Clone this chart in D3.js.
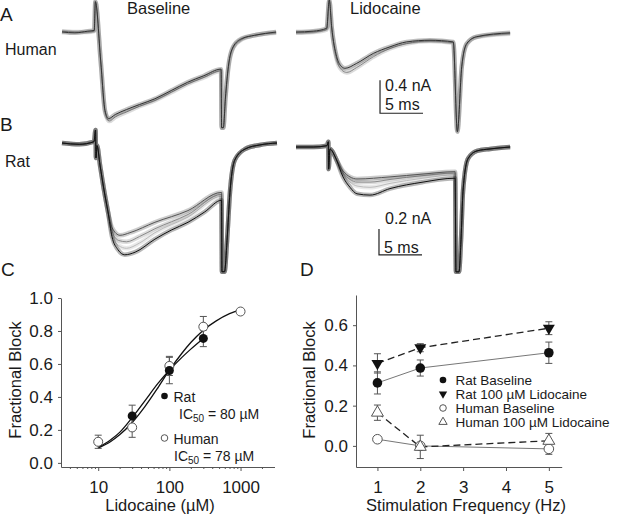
<!DOCTYPE html>
<meta charset="utf-8">
<script src="https://d3js.org/d3.v7.min.js"></script>
<style>
  body { margin: 0; background: #fff; }
  text { font-family: "Liberation Sans", Arial, sans-serif; fill: #1a1a1a; }
</style>
<div id="fig"></div>
<script>

// ---- traces, [time ms, current nA] ----
const humanBase1 = [[0,0],[1.5,-0.01],[3,0.01],[3.75,0.02],[3.88,0.37],[4.5,-0.35],[5.0,-0.95],[5.4,-1.05],[6.2,-1.0],[7.5,-0.94],[9.0,-0.88],[10.8,-0.81],[12.7,-0.71],[14.6,-0.61],[16.5,-0.53],[18.5,-0.45],[18.56,-1.16],[18.76,-1.16],[19.0,-0.8],[19.34,-0.42],[19.9,-0.18],[20.9,-0.08],[22.4,-0.04],[24.9,0]]
const humanBase2 = [[0,0.01],[1.5,0],[3,0],[3.75,0.01],[3.88,0.36],[4.5,-0.36],[5.0,-0.97],[5.5,-1.08],[6.2,-1.03],[7.5,-0.97],[9.0,-0.9],[10.8,-0.83],[12.7,-0.73],[14.6,-0.63],[16.5,-0.55],[18.5,-0.47],[18.56,-1.16],[18.76,-1.16],[19.0,-0.82],[19.34,-0.44],[19.9,-0.19],[20.9,-0.09],[22.4,-0.04],[24.9,-0.01]]
const humanLido1 = [[0,0],[2,0.01],[3.57,0.045],[3.87,0.39],[4.15,0.06],[4.73,-0.3],[5.31,-0.42],[5.7,-0.44],[7.06,-0.38],[8.99,-0.26],[10.93,-0.18],[12.87,-0.12],[15.58,-0.1],[18.29,-0.12],[18.76,-1.21],[19.27,-0.42],[19.85,-0.14],[21.01,-0.057],[24.9,-0.01]]
const humanLido2 = [[0,-0.01],[2,0],[3.57,0.03],[3.87,0.38],[4.15,0.05],[4.73,-0.33],[5.31,-0.46],[5.9,-0.49],[7.06,-0.43],[8.99,-0.3],[10.93,-0.2],[12.87,-0.14],[15.58,-0.11],[18.29,-0.13],[18.76,-1.2],[19.27,-0.43],[19.85,-0.15],[21.01,-0.06],[24.9,-0.02]]

const ratBaseHead = [[0,0],[2,-0.01],[3.72,0.01],[3.9,0.1],[3.95,-0.115],[4.07,-0.02],[4.42,-0.17],[4.88,-0.36],[5.35,-0.53]]
const ratBaseBlack = [[5.81,-0.72],[6.5,-0.82],[7.3,-0.86],[8.5,-0.84],[10.8,-0.74],[12.7,-0.67],[14.65,-0.61],[16.6,-0.53],[18.55,-0.44]]
const ratBaseLight = [[5.81,-0.7],[6.6,-0.79],[7.5,-0.81],[9,-0.77],[10.8,-0.69],[14.65,-0.57],[18.55,-0.41]]
const ratBaseMid = [[5.81,-0.68],[6.6,-0.75],[7.5,-0.76],[9,-0.72],[10.8,-0.66],[14.65,-0.55],[18.55,-0.395]]
const ratBaseDark = [[5.81,-0.65],[6.74,-0.71],[7.9,-0.69],[10.8,-0.61],[14.65,-0.52],[18.55,-0.38]]
const ratBaseTail = [[18.6,-0.99],[18.9,-0.99],[19.19,-0.75],[19.53,-0.38],[20.1,-0.13],[21.3,-0.046],[23,-0.015],[25,0]]

const ratLidoHead = [[0,0],[2,0],[3.6,0.01],[3.76,0.04],[3.79,-0.17],[3.95,-0.015],[4.19,-0.03],[4.65,-0.09]]
const ratLidoBlack = [[5.47,-0.23],[6.28,-0.31],[7.09,-0.36],[8.6,-0.37],[10.93,-0.32],[14.77,-0.27],[18.5,-0.24]]
const ratLidoLight = [[5.47,-0.21],[6.28,-0.27],[7.09,-0.3],[8.6,-0.31],[10.93,-0.28],[14.77,-0.24],[18.5,-0.215]]
const ratLidoMid = [[5.47,-0.2],[6.28,-0.25],[7.09,-0.27],[8.6,-0.27],[10.93,-0.25],[14.77,-0.22],[18.5,-0.2]]
const ratLidoDark = [[5.47,-0.185],[6.28,-0.23],[7.09,-0.246],[10.93,-0.23],[14.77,-0.208],[18.5,-0.19]]
const ratLidoTail = [[18.6,-0.96],[18.95,-0.96],[19.19,-0.71],[19.42,-0.34],[20,-0.09],[21.05,-0.03],[22.56,-0.015],[24.9,0]]

const scaleBarMs = 5, humanBarNa = 0.4, ratBarNa = 0.2

// ---- panel C: dose response ----
const ratConc = [30, 100, 300]
const ratBlock = [0.285, 0.56, 0.755]
const ratSem = [0.065, 0.08, 0.05]
const humanConc = [10, 30, 100, 300, 1000]
const humanBlock = [0.128, 0.215, 0.588, 0.826, 0.918]
const humanSem = [0.04, 0.06, 0.058, 0.062, 0.01]
const ratFit = [[10,0.093],[15,0.14],[20,0.185],[30,0.275],[45,0.375],[70,0.485],[100,0.562],[150,0.64],[200,0.69],[300,0.755]]
const humanFit = [[10,0.09],[15,0.13],[20,0.17],[30,0.245],[45,0.34],[70,0.46],[100,0.562],[150,0.665],[200,0.73],[300,0.805],[450,0.86],[700,0.905],[1000,0.93]]
const cLegend = ["Rat", "Human"]
const cIC50 = [80, 78]
const cXTicks = [10, 100, 1000]
const cYTicks = [0, 0.2, 0.4, 0.6, 0.8, 1.0]

// ---- panel D: frequency dependence ----
const freqs = [1, 2, 5]
const ratBaseFreq = [0.313, 0.387, 0.463]
const ratBaseFreqSem = [0.055, 0.04, 0.053]
const ratLidoFreq = [0.41, 0.488, 0.585]
const ratLidoFreqSem = [0.048, 0.02, 0.032]
const humanBaseFreq = [0.033, 0.0, -0.015]
const humanBaseFreqSem = [0.005, 0.01, 0.027]
const humanLidoFreq = [0.165, -0.005, 0.025]
const humanLidoFreqSem = [0.038, 0.058, 0.037]
const dLegend = ["Rat Baseline", "Rat 100 µM Lidocaine", "Human Baseline", "Human 100 µM Lidocaine"]
const dXTicks = [1, 2, 3, 4, 5]
const dYTicks = [0, 0.2, 0.4, 0.6]

const W = 617, H = 516
const svg = d3.select("#fig").append("svg").attr("width", W).attr("height", H)
svg.append("rect").attr("width", W).attr("height", H).attr("fill", "#fff")

// panel letters and headings
const lab = (x, y, t, size) => svg.append("text").attr("x", x).attr("y", y).attr("font-size", size).text(t)
lab(0, 20.5, "A", 19); lab(0, 131, "B", 19); lab(1, 276, "C", 19); lab(300, 276, "D", 19)
lab(127, 14, "Baseline", 16.5); lab(350, 14, "Lidocaine", 16.5)
lab(5, 55, "Human", 16); lab(5, 167, "Rat", 16)

// ---- traces ----
function drawTrace(xs, ys, pts, color) {
  const line = d3.line().x(d => xs(d[0])).y(d => ys(d[1])).curve(d3.curveMonotoneX)
  svg.append("path").attr("d", line(pts)).attr("fill", "none")
    .attr("stroke", color).attr("stroke-width", 4.5).attr("stroke-opacity", 0.3)
    .attr("stroke-linejoin", "round")
  svg.append("path").attr("d", line(pts)).attr("fill", "none")
    .attr("stroke", color).attr("stroke-width", 1)
}
const txLeft = d3.scaleLinear().domain([0, 25]).range([62, 277])
const txRight = d3.scaleLinear().domain([0, 25]).range([296, 511])
const hyLeft = d3.scaleLinear().domain([0, -1]).range([32, 114.5])
const hyRight = d3.scaleLinear().domain([0, -1]).range([32, 114.5])
const ryLeft = d3.scaleLinear().domain([0, -1]).range([143, 273])
const ryRight = d3.scaleLinear().domain([0, -1]).range([147, 277])

drawTrace(txLeft, hyLeft, humanBase2, "#888")
drawTrace(txLeft, hyLeft, humanBase1, "#333")
drawTrace(txRight, hyRight, humanLido2, "#888")
drawTrace(txRight, hyRight, humanLido1, "#333")

const ratColors = ["#bbb", "#8a8a8a", "#555", "#111"]
;[ratBaseLight, ratBaseMid, ratBaseDark, ratBaseBlack].forEach((b, i) =>
  drawTrace(txLeft, ryLeft, ratBaseHead.concat(b, ratBaseTail), ratColors[i]))
;[ratLidoLight, ratLidoMid, ratLidoDark, ratLidoBlack].forEach((b, i) =>
  drawTrace(txRight, ryRight, ratLidoHead.concat(b, ratLidoTail), ratColors[i]))

// scale bars
function scaleBar(xs, ys, t0, i0, na, label, lx, ly, ly2) {
  svg.append("path")
    .attr("d", `M${xs(t0)},${ys(i0 + na)}V${ys(i0)}H${xs(t0 + scaleBarMs)}`)
    .attr("fill", "none").attr("stroke", "#222").attr("stroke-width", 1.2)
  svg.append("text").attr("x", xs(t0) + lx).attr("y", ly).attr("font-size", 16).text(label)
  svg.append("text").attr("x", xs(t0) + 5).attr("y", ly2).attr("font-size", 16).text(scaleBarMs + " ms")
}
scaleBar(txRight, hyRight, 9.77, -0.985, humanBarNa, humanBarNa + " nA", 5, 90.5, 110)
scaleBar(txRight, ryRight, 9.65, -0.83, ratBarNa, ratBarNa + " nA", 6, 224, 253)

// ---- axes helper ----
function styleAxis(g) {
  g.selectAll(".domain").attr("stroke", "#555")
  g.selectAll(".tick line").attr("stroke", "#555")
  g.selectAll(".tick text").attr("font-size", 17).attr("fill", "#1a1a1a")
    .attr("font-family", '"Liberation Sans", Arial, sans-serif')
}
function errBars(xs, ys, xv, yv, sv) {
  xv.forEach((x, i) => {
    const cxp = xs(x), top = ys(yv[i] + sv[i]), bot = ys(yv[i] - sv[i])
    svg.append("path").attr("d", `M${cxp},${top}V${bot}M${cxp - 3.5},${top}H${cxp + 3.5}M${cxp - 3.5},${bot}H${cxp + 3.5}`)
      .attr("stroke", "#555").attr("stroke-width", 1).attr("fill", "none")
  })
}

// ---- panel C ----
const cx = d3.scaleLog().domain([3, 3000]).range([61, 274.5])
const cy = d3.scaleLinear().domain([-0.025, 1.0]).range([467, 298])

const cYAxis = svg.append("g").attr("transform", "translate(61,0)")
  .call(d3.axisLeft(cy).tickValues(cYTicks).tickFormat(d3.format(".1f")).tickSize(3).tickSizeOuter(0).tickPadding(5))
styleAxis(cYAxis)
const cXAxis = svg.append("g").attr("transform", "translate(0,467)")
  .call(d3.axisBottom(cx).tickValues(cXTicks).tickFormat(d3.format("d")).tickSize(4).tickSizeOuter(0).tickPadding(10))
styleAxis(cXAxis)
const minor = []
;[1, 10, 100, 1000].forEach(dec => d3.range(2, 10).forEach(m => { const v = dec * m; if (v > 3 && v < 3000) minor.push(v) }))
const cMinor = svg.append("g").attr("transform", "translate(0,467)")
  .call(d3.axisBottom(cx).tickValues(minor).tickFormat("").tickSize(2).tickSizeOuter(0))
styleAxis(cMinor)
cMinor.select(".domain").remove()

svg.append("text").attr("transform", "translate(21,380) rotate(-90)").attr("text-anchor", "middle")
  .attr("font-size", 16.5).text("Fractional Block")
svg.append("text").attr("x", 160).attr("y", 511).attr("text-anchor", "middle")
  .attr("font-size", 16.5).text("Lidocaine (µM)")

const fitLine = d3.line().x(d => cx(d[0])).y(d => cy(d[1])).curve(d3.curveMonotoneX)
svg.append("path").attr("d", fitLine(ratFit)).attr("fill", "none").attr("stroke", "#111").attr("stroke-width", 1.3)
svg.append("path").attr("d", fitLine(humanFit)).attr("fill", "none").attr("stroke", "#111").attr("stroke-width", 1.3)

errBars(cx, cy, humanConc, humanBlock, humanSem)
errBars(cx, cy, ratConc, ratBlock, ratSem)
svg.selectAll(".hc").data(humanConc).join("circle")
  .attr("cx", d => cx(d)).attr("cy", (d, i) => cy(humanBlock[i])).attr("r", 4.5)
  .attr("fill", "#fff").attr("stroke", "#555").attr("stroke-width", 1)
svg.selectAll(".rc").data(ratConc).join("circle")
  .attr("cx", d => cx(d)).attr("cy", (d, i) => cy(ratBlock[i])).attr("r", 4.5)
  .attr("fill", "#111")

// C legend
const cLegY = [396, 438]
cLegend.forEach((name, i) => {
  svg.append("circle").attr("cx", 164.5).attr("cy", cLegY[i]).attr("r", 3.3)
    .attr("fill", i === 0 ? "#111" : "#fff").attr("stroke", i === 0 ? "none" : "#555")
  svg.append("text").attr("x", 173.5).attr("y", cLegY[i] + 5.5).attr("font-size", 14).text(name)
  const t = svg.append("text").attr("x", i === 0 ? 179 : 174).attr("y", cLegY[i] + 22.5).attr("font-size", 14)
  t.append("tspan").text("IC")
  t.append("tspan").attr("font-size", 10).attr("dy", 3.5).text("50")
  t.append("tspan").attr("dy", -3.5).text(" = " + cIC50[i] + " µM")
})

// ---- panel D ----
const dx = d3.scaleLinear().domain([0.5, 5.3]).range([356, 561.7])
const dy = d3.scaleLinear().domain([-0.105, 0.75]).range([467, 295])

const dYAxis = svg.append("g").attr("transform", "translate(356,0)")
  .call(d3.axisLeft(dy).tickValues(dYTicks).tickFormat(d3.format(".1f")).tickSize(3).tickSizeOuter(0).tickPadding(5))
styleAxis(dYAxis)
const dXAxis = svg.append("g").attr("transform", "translate(0,467)")
  .call(d3.axisBottom(dx).tickValues(dXTicks).tickFormat(d3.format("d")).tickSize(4).tickSizeOuter(0).tickPadding(10))
styleAxis(dXAxis)

svg.append("text").attr("transform", "translate(315,380) rotate(-90)").attr("text-anchor", "middle")
  .attr("font-size", 16.5).text("Fractional Block")
svg.append("text").attr("x", 466).attr("y", 511).attr("text-anchor", "middle")
  .attr("font-size", 16.5).text("Stimulation Frequency (Hz)")

const dSeries = [
  {vals: ratBaseFreq, sem: ratBaseFreqSem, sym: "circle", fill: "#111", dash: null, line: "#777"},
  {vals: ratLidoFreq, sem: ratLidoFreqSem, sym: "down", fill: "#111", dash: "7,4", line: "#222"},
  {vals: humanBaseFreq, sem: humanBaseFreqSem, sym: "circle", fill: "#fff", dash: null, line: "#777"},
  {vals: humanLidoFreq, sem: humanLidoFreqSem, sym: "up", fill: "#fff", dash: "7,4", line: "#222"}
]
const freqLine = d3.line().x((d, i) => dx(freqs[i])).y(d => dy(d))
dSeries.forEach(s => {
  svg.append("path").attr("d", freqLine(s.vals)).attr("fill", "none")
    .attr("stroke", s.line).attr("stroke-width", s.dash ? 1.3 : 1)
    .attr("stroke-dasharray", s.dash)
})
dSeries.forEach(s => errBars(dx, dy, freqs, s.vals, s.sem))

function marker(x, y, s, big) {
  const stroke = s.fill === "#fff" ? "#555" : "none"
  if (s.sym === "circle") {
    svg.append("circle").attr("cx", x).attr("cy", y).attr("r", big ? 4.8 : 3.3)
      .attr("fill", s.fill).attr("stroke", stroke)
  } else {
    svg.append("path").attr("d", d3.symbol(d3.symbolTriangle, big ? 62 : 30)())
      .attr("transform", `translate(${x},${y}) rotate(${s.sym === "down" ? 180 : 0})`)
      .attr("fill", s.fill).attr("stroke", stroke)
  }
}
dSeries.forEach(s => s.vals.forEach((v, i) => marker(dx(freqs[i]), dy(v), s, true)))

const dLegY = [380, 394, 408, 422]
dLegend.forEach((name, i) => {
  marker(443, dLegY[i], dSeries[i], false)
  svg.append("text").attr("x", 455.5).attr("y", dLegY[i] + 4.8).attr("font-size", 13.5).text(name)
})
</script>
